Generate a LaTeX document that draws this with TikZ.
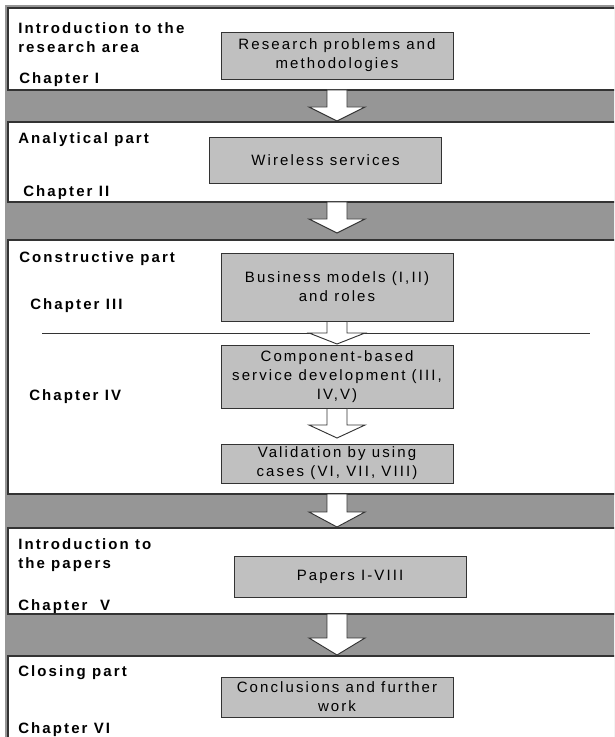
\documentclass[tikz,border=0pt]{standalone}
\usepackage{fontspec}
\setmainfont[LetterSpace=14]{Liberation Sans}
\usetikzlibrary{calc}

\definecolor{bandgray}{HTML}{969696}
\definecolor{boxgray}{HTML}{C0C0C0}
\definecolor{edgegray}{HTML}{333333}

\tikzset{
  panel/.style={draw=edgegray,line width=0.9pt,fill=white},
  chapbox/.style={draw=edgegray,line width=0.7pt,fill=boxgray,inner sep=0pt,
    align=center,minimum width=174pt,font=\fontsize{11.25}{14.3}\selectfont},
  partlabel/.style={anchor=west,inner sep=0pt,align=left,
    font=\fontsize{11.25}{14.3}\selectfont\bfseries},
  blockarr/.style={draw=edgegray,line width=0.7pt,fill=white,line join=miter},
}

% hollow block arrow: start, tip, head length
\newcommand\blockarrow[3]{%
  \draw[blockarr] ($(#1)+(-10,0)$) -- ($(#2)+(-10,-#3)$) -- ($(#2)+(-28,-#3)$)
    -- (#2) -- ($(#2)+(28,-#3)$) -- ($(#2)+(10,-#3)$) -- ($(#1)+(10,0)$) -- cycle;}

\begin{document}
\begin{tikzpicture}[x=0.75pt,y=-0.75pt,line cap=butt]
  \clip (0,0) rectangle (614,737);
  \fill[bandgray] (5,5) rectangle (640,760);

  % chapter panels
  \draw[panel] (8,8) rectangle (640,90);
  \draw[panel] (8,122) rectangle (640,202);
  \draw[panel] (8,240) rectangle (640,494);
  \draw[panel] (8,528) rectangle (640,614);
  \draw[panel] (8,656) rectangle (640,780);
  \draw[edgegray,line width=0.7pt] (42,333) -- (590,333);

  % part labels
  \node[partlabel] (introlbl) at (18,37.5) {Introduction to the\\research area};
  \node[partlabel] (chapI) at (19,80) {Chapter I};
  \node[partlabel] (analbl) at (18,140) {Analytical part};
  \node[partlabel] (chapII) at (23,193) {Chapter II};
  \node[partlabel] (conlbl) at (19,259) {Constructive part};
  \node[partlabel] (chapIII) at (30,306) {Chapter III};
  \node[partlabel] (chapIV) at (29,397) {Chapter IV};
  \node[partlabel] (paplbl) at (18,555.5) {Introduction to\\the papers};
  \node[partlabel] (chapV) at (18,607) {Chapter\ \ V};
  \node[partlabel] (closlbl) at (18,673) {Closing part};
  \node[partlabel] (chapVI) at (18,730) {Chapter VI};

  % content boxes
  \node[chapbox,minimum height=35.25pt] (problems) at (337,55.5)
    {Research problems and\\methodologies};
  \node[chapbox,minimum height=34.5pt] (wireless) at (325.5,160)
    {Wireless services};
  \node[chapbox,minimum height=51pt] (business) at (337,287)
    {Business models (I,II)\\and roles};
  \node[chapbox,minimum height=47.25pt] (component) at (337,376.5)
    {Component-based\\service development (III,\\IV,V)};
  \node[chapbox,minimum height=29.25pt] (validation) at (337,463.5)
    {Validation by using\\cases (VI, VII, VIII)};
  \node[chapbox,minimum height=30.75pt] (papers) at (350,576.5)
    {Papers I-VIII};
  \node[chapbox,minimum height=30pt] (conclusions) at (337,697)
    {Conclusions and further\\work};

  % arrows between parts
  \coordinate (s1) at (337,90);  \coordinate (t1) at (337,121);
  \coordinate (s2) at (337,202); \coordinate (t2) at (337,233);
  \coordinate (t3) at (337,344);
  \coordinate (t4) at (337,438);
  \coordinate (s5) at (337,494); \coordinate (t5) at (337,527);
  \coordinate (s6) at (337,614); \coordinate (t6) at (337,655);
  \blockarrow{s1}{t1}{14}
  \blockarrow{s2}{t2}{14}
  \blockarrow{business.south}{t3}{11}
  \blockarrow{component.south}{t4}{13}
  \blockarrow{s5}{t5}{15}
  \blockarrow{s6}{t6}{17}
\end{tikzpicture}
\end{document}
